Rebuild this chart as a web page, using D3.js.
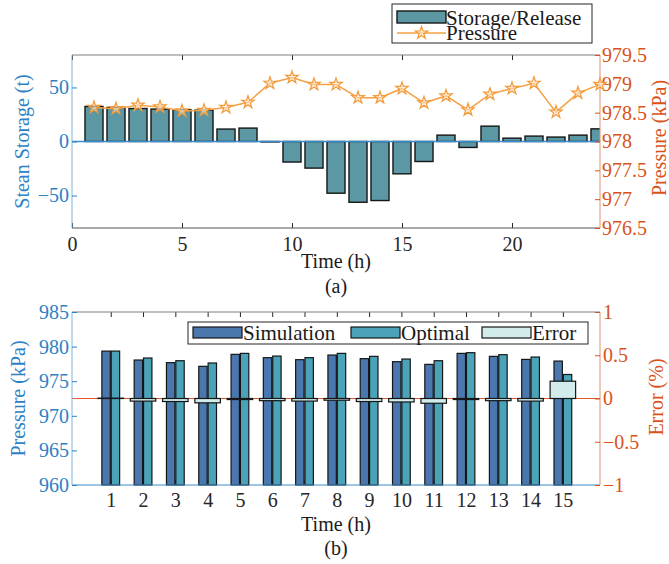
<!DOCTYPE html>
<html>
<head>
<meta charset="utf-8">
<script src="https://cdn.jsdelivr.net/npm/d3@7"></script>
<style>
  body { margin: 0; background: #fff; }
  text { font-family: "Liberation Serif", "Times New Roman", serif; }
</style>
</head>
<body>
<div id="chart"></div>
<script>
var svgWidth = 669;
var svgHeight = 564;

// ---- data: panel (a) ----
var hours = [1, 2, 3, 4, 5, 6, 7, 8, 9, 10, 11, 12, 13, 14, 15, 16, 17, 18, 19, 20, 21, 22, 23, 24];
var storage = [32.4, 31.5, 30.5, 30, 29.3, 29, 11.5, 12.4, -0.4, -19, -24.6, -47.8, -56.2, -54.6, -29.9, -18.5, 5.9, -5.5, 14.2, 3.1, 5, 4.1, 5.9, 11.7];
var pressure = [978.59, 978.57, 978.63, 978.60, 978.53, 978.54, 978.59, 978.68, 979.01, 979.11, 978.99, 978.99, 978.76, 978.76, 978.92, 978.67, 978.79, 978.55, 978.82, 978.92, 979.01, 978.51, 978.84, 978.99];
var timeTicksA = [0, 5, 10, 15, 20];
var storageTicks = [-50, 0, 50];
var pressureTicksA = [976.5, 977, 977.5, 978, 978.5, 979, 979.5];

// ---- data: panel (b) ----
var steps = [1, 2, 3, 4, 5, 6, 7, 8, 9, 10, 11, 12, 13, 14, 15];
var simulation = [979.35, 978.06, 977.68, 977.15, 978.88, 978.40, 978.11, 978.78, 978.26, 977.82, 977.43, 979.02, 978.59, 978.15, 977.91];
var optimal = [979.35, 978.35, 977.96, 977.63, 979.02, 978.63, 978.40, 979.02, 978.59, 978.20, 977.96, 979.12, 978.83, 978.49, 975.97];
var errorPct = [0.004, -0.03, -0.035, -0.05, -0.012, -0.025, -0.03, -0.02, -0.035, -0.04, -0.055, -0.012, -0.025, -0.03, 0.2];
var pressureTicksB = [960, 965, 970, 975, 980, 985];
var errorTicks = [-1, -0.5, 0, 0.5, 1];

var blue = "#2c82c4", blueLine = "#7fb2dc";
var red = "#d95319", redLine = "#e3906c";
var fontSize = 20;

var svg = d3.select("#chart")
  .append("svg")
  .attr("width", svgWidth)
  .attr("height", svgHeight);

var left = 72, right = 600;

function styleAxis(g, color) {
  g.select(".domain").remove();
  g.selectAll(".tick line").attr("stroke", color);
  g.selectAll(".tick text")
    .attr("fill", color)
    .style("font-size", fontSize + "px")
    .style("font-family", "'Liberation Serif', serif");
}

// =============== panel (a) ===============
var topA = 55, botA = 228;

var xA = d3.scaleLinear().domain([0, 24]).range([left, right]);
var yA = d3.scaleLinear().domain([-80, 80]).range([botA, topA]);
var yA2 = d3.scaleLinear().domain([976.5, 979.5]).range([botA, topA]);

svg.append("clipPath").attr("id", "clipA")
  .append("rect").attr("x", left).attr("y", topA)
  .attr("width", right - left).attr("height", botA - topA);

// ticks on top and bottom
svg.append("g")
  .attr("transform", `translate(0, ${botA})`)
  .call(d3.axisBottom(xA).tickValues(timeTicksA).tickSize(-5).tickPadding(9))
  .call(g => styleAxis(g, "#262626"));

svg.append("g")
  .attr("transform", `translate(0, ${topA})`)
  .call(d3.axisTop(xA).tickValues(timeTicksA).tickSize(-5).tickFormat(""))
  .call(g => styleAxis(g, "#262626"));

var plotA = svg.append("g").attr("clip-path", "url(#clipA)");

plotA.selectAll("rect.bar")
  .data(storage)
  .enter()
  .append("rect")
  .attr("class", "bar")
  .attr("x", (d, i) => xA(hours[i] - 0.41))
  .attr("width", xA(0.82) - xA(0))
  .attr("y", d => yA(Math.max(d, 0)))
  .attr("height", d => Math.abs(yA(d) - yA(0)))
  .attr("fill", "#5b98a3")
  .attr("stroke", "#161616")
  .attr("stroke-width", 1.4);

// baseline
svg.append("line")
  .attr("x1", left).attr("x2", right)
  .attr("y1", yA(0)).attr("y2", yA(0))
  .attr("stroke", "#3a8dcc").attr("stroke-width", 1.4);

// frame
svg.append("line").attr("x1", left).attr("x2", right).attr("y1", topA).attr("y2", topA)
  .attr("stroke", "#7f7f7f");
svg.append("line").attr("x1", left).attr("x2", right).attr("y1", botA).attr("y2", botA)
  .attr("stroke", "#555");
svg.append("line").attr("x1", left).attr("x2", left).attr("y1", topA).attr("y2", botA)
  .attr("stroke", blueLine);
svg.append("line").attr("x1", right).attr("x2", right).attr("y1", topA).attr("y2", botA)
  .attr("stroke", redLine);

svg.append("g")
  .attr("transform", `translate(${left}, 0)`)
  .call(d3.axisLeft(yA).tickValues(storageTicks).tickSize(-5).tickPadding(3))
  .call(g => styleAxis(g, blue));

svg.append("g")
  .attr("transform", `translate(${right}, 0)`)
  .call(d3.axisRight(yA2).tickValues(pressureTicksA).tickSize(-5).tickPadding(2).tickFormat(d3.format("~g")))
  .call(g => styleAxis(g, red));

// pressure line
var line = d3.line()
  .x((d, i) => xA(hours[i]))
  .y(d => yA2(d));

svg.append("path")
  .datum(pressure)
  .attr("d", line)
  .attr("fill", "none")
  .attr("stroke", "#f5a043")
  .attr("stroke-width", 1.5);

var star = d3.symbol().type(d3.symbolStar).size(48);
svg.selectAll("path.star")
  .data(pressure)
  .enter()
  .append("path")
  .attr("class", "star")
  .attr("d", star)
  .attr("transform", (d, i) => `translate(${xA(hours[i])}, ${yA2(d)})`)
  .attr("fill", "#fde3c4")
  .attr("fill-opacity", 0.6)
  .attr("stroke", "#f39a3a")
  .attr("stroke-width", 1.2);

// axis titles
svg.append("text")
  .attr("transform", `translate(29, ${(topA + botA) / 2}) rotate(-90)`)
  .attr("text-anchor", "middle")
  .attr("fill", blue)
  .style("font-size", fontSize + "px")
  .text("Stean Storage (t)");

svg.append("text")
  .attr("transform", `translate(666, 138) rotate(-90)`)
  .attr("text-anchor", "middle")
  .attr("fill", red)
  .style("font-size", fontSize + "px")
  .text("Pressure (kPa)");

svg.append("text")
  .attr("x", (left + right) / 2).attr("y", 268)
  .attr("text-anchor", "middle")
  .attr("fill", "#1a1a1a")
  .style("font-size", fontSize + "px")
  .text("Time (h)");

svg.append("text")
  .attr("x", (left + right) / 2).attr("y", 293)
  .attr("text-anchor", "middle")
  .attr("fill", "#1a1a1a")
  .style("font-size", fontSize + "px")
  .text("(a)");

// legend (a)
var legA = svg.append("g");
legA.append("rect")
  .attr("x", 392).attr("y", 4).attr("width", 200).attr("height", 39)
  .attr("fill", "#fff").attr("stroke", "#262626");
legA.append("rect")
  .attr("x", 397).attr("y", 11).attr("width", 49).attr("height", 12)
  .attr("fill", "#5b98a3").attr("stroke", "#161616").attr("stroke-width", 1.4);
legA.append("text")
  .attr("x", 446).attr("y", 25)
  .attr("fill", "#1a1a1a").style("font-size", "21px")
  .text("Storage/Release");
legA.append("line")
  .attr("x1", 397).attr("x2", 446).attr("y1", 33).attr("y2", 33)
  .attr("stroke", "#f5a043").attr("stroke-width", 1.5);
legA.append("path")
  .attr("d", star)
  .attr("transform", "translate(421.5, 33)")
  .attr("fill", "#fde3c4").attr("fill-opacity", 0.6)
  .attr("stroke", "#f39a3a").attr("stroke-width", 1.2);
legA.append("text")
  .attr("x", 446).attr("y", 40)
  .attr("fill", "#1a1a1a").style("font-size", "21px")
  .text("Pressure");

// =============== panel (b) ===============
var topB = 312, botB = 485;

var xB = d3.scaleLinear().domain([-0.2, 16.15]).range([left, right]);
var yB = d3.scaleLinear().domain([960, 985]).range([botB, topB]);
var yB2 = d3.scaleLinear().domain([-1, 1]).range([botB, topB]);

svg.append("g")
  .attr("transform", `translate(0, ${botB})`)
  .call(d3.axisBottom(xB).tickValues(steps).tickSize(-5).tickPadding(8))
  .call(g => styleAxis(g, "#262626"));

svg.append("g")
  .attr("transform", `translate(0, ${topB})`)
  .call(d3.axisTop(xB).tickValues(steps).tickSize(-5).tickFormat(""))
  .call(g => styleAxis(g, "#262626"));

// zero line of error axis
svg.append("line")
  .attr("x1", left).attr("x2", right)
  .attr("y1", yB2(0)).attr("y2", yB2(0))
  .attr("stroke", "#e0582a").attr("stroke-width", 1.2);

var barW = xB(0.26) - xB(0);

svg.selectAll("rect.sim")
  .data(simulation)
  .enter()
  .append("rect")
  .attr("class", "sim")
  .attr("x", (d, i) => xB(steps[i] - 0.145) - barW / 2)
  .attr("width", barW)
  .attr("y", d => yB(d))
  .attr("height", d => yB(960) - yB(d))
  .attr("fill", "#4a78ae")
  .attr("stroke", "#161616")
  .attr("stroke-width", 1.2);

svg.selectAll("rect.opt")
  .data(optimal)
  .enter()
  .append("rect")
  .attr("class", "opt")
  .attr("x", (d, i) => xB(steps[i] + 0.145) - barW / 2)
  .attr("width", barW)
  .attr("y", d => yB(d))
  .attr("height", d => yB(960) - yB(d))
  .attr("fill", "#4aa3b8")
  .attr("stroke", "#161616")
  .attr("stroke-width", 1.2);

svg.selectAll("rect.err")
  .data(errorPct)
  .enter()
  .append("rect")
  .attr("class", "err")
  .attr("x", (d, i) => xB(steps[i] - 0.395))
  .attr("width", xB(0.79) - xB(0))
  .attr("y", d => yB2(Math.max(d, 0)))
  .attr("height", d => Math.abs(yB2(d) - yB2(0)))
  .attr("fill", "#d2eceb")
  .attr("stroke", "#161616")
  .attr("stroke-width", 1.2);

// frame
svg.append("line").attr("x1", left).attr("x2", right).attr("y1", topB).attr("y2", topB)
  .attr("stroke", "#7f7f7f");
svg.append("line").attr("x1", left).attr("x2", right).attr("y1", botB).attr("y2", botB)
  .attr("stroke", "#3a8dcc").attr("stroke-width", 1.2);
svg.append("line").attr("x1", left).attr("x2", left).attr("y1", topB).attr("y2", botB)
  .attr("stroke", blueLine);
svg.append("line").attr("x1", right).attr("x2", right).attr("y1", topB).attr("y2", botB)
  .attr("stroke", redLine);

svg.append("g")
  .attr("transform", `translate(${left}, 0)`)
  .call(d3.axisLeft(yB).tickValues(pressureTicksB).tickSize(-5).tickPadding(3))
  .call(g => styleAxis(g, blue));

svg.append("g")
  .attr("transform", `translate(${right}, 0)`)
  .call(d3.axisRight(yB2).tickValues(errorTicks).tickSize(-5).tickPadding(3).tickFormat(d3.format("~g")))
  .call(g => styleAxis(g, red));

svg.append("text")
  .attr("transform", `translate(25, ${(topB + botB) / 2}) rotate(-90)`)
  .attr("text-anchor", "middle")
  .attr("fill", blue)
  .style("font-size", fontSize + "px")
  .text("Pressure (kPa)");

svg.append("text")
  .attr("transform", `translate(663, 397) rotate(-90)`)
  .attr("text-anchor", "middle")
  .attr("fill", red)
  .style("font-size", fontSize + "px")
  .text("Error (%)");

svg.append("text")
  .attr("x", (left + right) / 2).attr("y", 531)
  .attr("text-anchor", "middle")
  .attr("fill", "#1a1a1a")
  .style("font-size", fontSize + "px")
  .text("Time (h)");

svg.append("text")
  .attr("x", (left + right) / 2).attr("y", 555)
  .attr("text-anchor", "middle")
  .attr("fill", "#1a1a1a")
  .style("font-size", fontSize + "px")
  .text("(b)");

// legend (b)
var legB = svg.append("g");
legB.append("rect")
  .attr("x", 188).attr("y", 322).attr("width", 400).attr("height", 22)
  .attr("fill", "#fff").attr("stroke", "#262626");

var legItems = [
  { name: "Simulation", color: "#4a78ae", x: 193 },
  { name: "Optimal", color: "#4aa3b8", x: 351 },
  { name: "Error", color: "#d2eceb", x: 482 }
];
legItems.forEach(function(it) {
  legB.append("rect")
    .attr("x", it.x).attr("y", 327).attr("width", 49).attr("height", 11)
    .attr("fill", it.color).attr("stroke", "#161616").attr("stroke-width", 1.2);
  legB.append("text")
    .attr("x", it.x + 50).attr("y", 340)
    .attr("fill", "#1a1a1a").style("font-size", "21px")
    .text(it.name);
});
</script>
</body>
</html>
